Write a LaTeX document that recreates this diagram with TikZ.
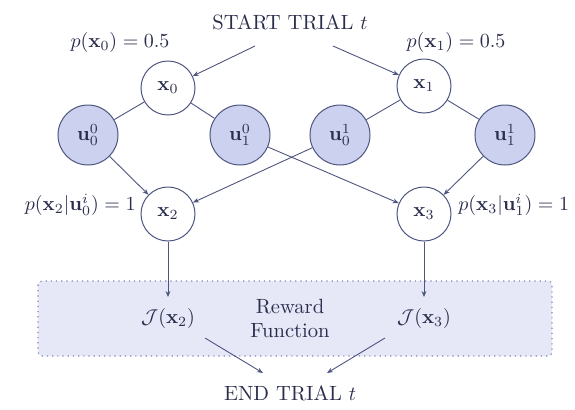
\documentclass[tikz,border=0pt]{standalone}
\usepackage{amsmath,amssymb}
\usetikzlibrary{arrows.meta}
\definecolor{edgecol}{HTML}{4E557F}
\definecolor{inkcol}{HTML}{2A2D4C}
\definecolor{actfill}{HTML}{CBD1EF}
\definecolor{boxfill}{HTML}{E6E8F8}
\definecolor{boxline}{HTML}{7C84B4}
\tikzset{
  statenode/.style={circle,draw=edgecol,line width=0.5pt,fill=white,minimum size=27pt,inner sep=0pt,text=inkcol},
  actnode/.style={circle,draw=edgecol,line width=0.5pt,fill=actfill,minimum size=30pt,inner sep=0pt,text=inkcol},
  txtnode/.style={inner sep=1pt,text=inkcol},
  link/.style={draw=edgecol,line width=0.45pt},
  flow/.style={link,-{Stealth[length=3pt,width=2.4pt]}}
}
\begin{document}
\begin{tikzpicture}[x={(0.5pt,0)},y={(0,-0.5pt)},font=\fontsize{10.3}{12}\selectfont]
\useasboundingbox (0,0) rectangle (575,409);
% reward region
\draw[fill=boxfill,draw=boxline,dotted,line width=0.6pt,rounded corners=2pt] (38,281) rectangle (552,356);
% labels and text
\node[txtnode] (start) at (290,22) {START TRIAL $t$};
\node[txtnode] (stop) at (290,393) {END TRIAL $t$};
\node[txtnode] (p0) at (120,42) {$p(\mathbf{x}_0)=0.5$};
\node[txtnode] (p1) at (456,42) {$p(\mathbf{x}_1)=0.5$};
\node[txtnode,anchor=east] (p2) at (138,205) {$p(\mathbf{x}_2|\mathbf{u}^i_0)=1$};
\node[txtnode,anchor=west] (p3) at (456,205) {$p(\mathbf{x}_3|\mathbf{u}^i_1)=1$};
% states
\node[statenode] (x0) at (168,88) {$\mathbf{x}_0$};
\node[statenode] (x1) at (424,86) {$\mathbf{x}_1$};
\node[statenode] (x2) at (168,214) {$\mathbf{x}_2$};
\node[statenode] (x3) at (424,214) {$\mathbf{x}_3$};
% actions
\node[actnode] (u00) at (88,135) {$\mathbf{u}^0_0$};
\node[actnode] (u01) at (240,135) {$\mathbf{u}^0_1$};
\node[actnode] (u10) at (340,135) {$\mathbf{u}^1_0$};
\node[actnode] (u11) at (505,135) {$\mathbf{u}^1_1$};
% reward terms
\node[txtnode] (j2) at (168,318) {$\mathcal{J}(\mathbf{x}_2)$};
\node[txtnode] (j3) at (424,318) {$\mathcal{J}(\mathbf{x}_3)$};
\node[txtnode,align=center] (rf) at (290,318) {Reward\\Function};
% free ends
\coordinate (sL) at (255,46);
\coordinate (sR) at (333,46);
\coordinate (eL) at (263,373);
\coordinate (eR) at (327,373);
\coordinate (jL) at (205,338);
\coordinate (jR) at (385,338);
\coordinate (tL) at (168,297);
\coordinate (tR) at (424,297);
% connectors
\draw[flow] (sL) -- (x0);
\draw[flow] (sR) -- (x1);
\draw[link] (x0) -- (u00);
\draw[link] (x0) -- (u01);
\draw[link] (x1) -- (u10);
\draw[link] (x1) -- (u11);
\draw[flow] (u00) -- (x2);
\draw[flow] (u10) -- (x2);
\draw[flow] (u01) -- (x3);
\draw[flow] (u11) -- (x3);
\draw[flow] (x2) -- (tL);
\draw[flow] (x3) -- (tR);
\draw[flow] (jL) -- (eL);
\draw[flow] (jR) -- (eR);
\end{tikzpicture}
\end{document}
